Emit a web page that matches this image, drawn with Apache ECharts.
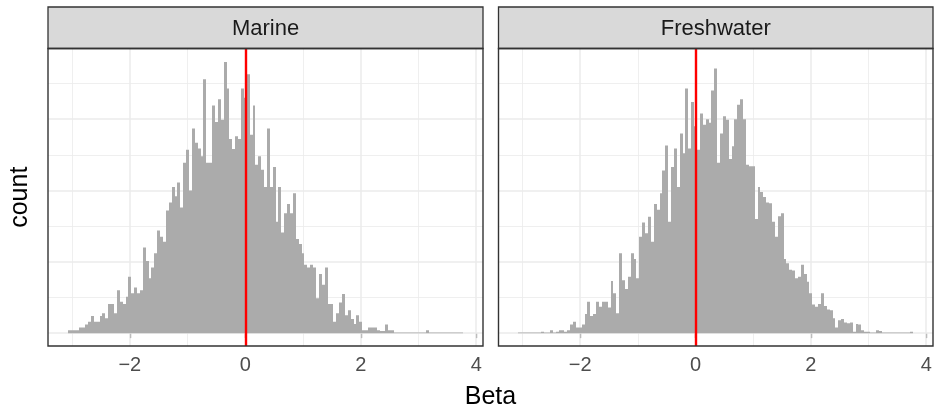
<!DOCTYPE html>
<html>
<head>
<meta charset="utf-8">
<script src="https://cdn.jsdelivr.net/npm/echarts@6/dist/echarts.min.js"></script>
<style>
html,body{margin:0;padding:0;background:#fff;}
#chart{width:935px;height:408px;}
</style>
</head>
<body>
<div id="chart"></div>
<script>
// ---------------- data ----------------
const panelNames = ['Marine', 'Freshwater'];
const binWidth = 0.05;
const binCenters = [
-3.05,-3.00,-2.95,-2.90,-2.85,-2.80,-2.75,-2.70,-2.65,-2.60,-2.55,-2.50,-2.45,-2.40,-2.35,-2.30,-2.25,-2.20,-2.15,-2.10,
-2.05,-2.00,-1.95,-1.90,-1.85,-1.80,-1.75,-1.70,-1.65,-1.60,-1.55,-1.50,-1.45,-1.40,-1.35,-1.30,-1.25,-1.20,-1.15,-1.10,
-1.05,-1.00,-0.95,-0.90,-0.85,-0.80,-0.75,-0.70,-0.65,-0.60,-0.55,-0.50,-0.45,-0.40,-0.35,-0.30,-0.25,-0.20,-0.15,-0.10,
-0.05,0.00,0.05,0.10,0.15,0.20,0.25,0.30,0.35,0.40,0.45,0.50,0.55,0.60,0.65,0.70,0.75,0.80,0.85,0.90,
0.95,1.00,1.05,1.10,1.15,1.20,1.25,1.30,1.35,1.40,1.45,1.50,1.55,1.60,1.65,1.70,1.75,1.80,1.85,1.90,
1.95,2.00,2.05,2.10,2.15,2.20,2.25,2.30,2.35,2.40,2.45,2.50,2.55,2.60,2.65,2.70,2.75,2.80,2.85,2.90,
2.95,3.00,3.05,3.10,3.15,3.20,3.25,3.30,3.35,3.40,3.45,3.50,3.55,3.60,3.65,3.70,3.75
];
const marineCounts = [
4,4,4,4,8,8,12,16,24,16,16,24,28,21,41,41,28,60,44,41,
51,79,56,64,56,60,120,101,77,92,112,144,135,128,172,183,205,192,211,176,
239,257,200,287,267,259,248,356,239,239,319,296,328,299,380,343,272,258,276,272,
343,330,363,278,319,236,248,229,205,287,205,233,156,205,141,168,181,168,196,132,
125,112,96,92,96,92,49,83,68,92,41,41,16,28,43,55,25,32,20,13,
25,16,4,4,8,8,8,4,3,3,12,4,4,1,1,1,1,1,1,1,
1,1,1,1,4,1,1,1,1,1,1,1,1,1,1,1,1
];
const freshwaterCounts = [
1,1,1,1,1,1,1,1,2,1,1,4,1,2,4,4,2,4,12,16,
8,8,12,27,44,24,27,44,37,44,44,36,73,56,28,112,74,62,79,112,
104,77,135,155,140,163,128,181,173,196,228,263,156,233,259,205,280,252,343,259,
324,290,257,308,292,300,295,340,371,239,280,304,299,244,262,300,320,328,300,236,
234,234,160,205,198,191,183,182,156,135,164,168,104,98,89,88,77,79,96,83,
72,56,40,37,41,56,38,33,32,21,8,18,20,15,14,15,2,13,12,4,
2,2,1,1,4,3,1,1,1,1,1,1,1,1,1,1,2
];
const xTickValues = [-2, 0, 2, 4];
const xMinorValues = [-3, -1, 1, 3];
const yMajorValues = [0, 100, 200, 300];
const yMinorValues = [50, 150, 250, 350];
const refLineValue = 0;
const xTitle = 'Beta';
const yTitle = 'count';

// ---------------- layout / style ----------------
const FONT = '"Liberation Sans", Arial, Helvetica, sans-serif';
const panels = [
  {left: 48, width: 435},
  {left: 498.5, width: 434.5}
];
const plotTop = 48.5, plotBottom = 346;
const stripTop = 7;

const lo = binCenters[0] - binWidth / 2;
const hi = binCenters[binCenters.length - 1] + binWidth / 2;
const xPad = 0.05 * (hi - lo);
const X_MIN = lo - xPad, X_MAX = hi + xPad;
const Y_MIN = -18, Y_MAX = 399;

const countsByPanel = [marineCounts, freshwaterCounts];
const fmt = v => (v < 0 ? '\u2212' + Math.abs(v) : String(v));

function renderBar(params, api) {
  const c = api.value(0), v = api.value(1);
  const p0 = api.coord([c - binWidth / 2, v]);
  const p1 = api.coord([c + binWidth / 2, 0]);
  const x0 = Math.round(p0[0]), x1 = Math.round(p1[0]);
  return {
    type: 'rect',
    shape: {x: x0, y: p0[1], width: x1 - x0, height: p1[1] - p0[1]},
    style: {fill: '#ababab'}
  };
}

const grids = [], xAxes = [], yAxes = [], series = [], graphics = [];
panels.forEach((p, i) => {
  grids.push({left: p.left, top: plotTop, width: p.width, height: plotBottom - plotTop, containLabel: false});
  xAxes.push({
    type: 'value', gridIndex: i, min: X_MIN, max: X_MAX,
    axisLine: {show: false}, splitLine: {show: false},
    axisTick: {show: true, customValues: xTickValues, length: 5, lineStyle: {color: '#333333', width: 1.2}},
    axisLabel: {customValues: xTickValues, formatter: fmt, color: '#4d4d4d', fontSize: 20, fontFamily: FONT, margin: 9}
  });
  yAxes.push({
    type: 'value', gridIndex: i, min: Y_MIN, max: Y_MAX,
    axisLine: {show: false}, axisTick: {show: false}, axisLabel: {show: false}, splitLine: {show: false}
  });
  const gl = [];
  xMinorValues.forEach(v => gl.push({xAxis: v, lineStyle: {color: '#ebebeb', width: 0.8, type: 'solid'}}));
  yMinorValues.forEach(v => gl.push({yAxis: v, lineStyle: {color: '#ebebeb', width: 0.8, type: 'solid'}}));
  xTickValues.forEach(v => gl.push({xAxis: v, lineStyle: {color: '#ebebeb', width: 1.5, type: 'solid'}}));
  yMajorValues.forEach(v => gl.push({yAxis: v, lineStyle: {color: '#ebebeb', width: 1.5, type: 'solid'}}));
  series.push({
    type: 'scatter', xAxisIndex: i, yAxisIndex: i, data: [], silent: true, z: 1,
    markLine: {silent: true, symbol: 'none', z: 1, label: {show: false}, animation: false, data: gl}
  });
  series.push({
    type: 'custom', name: panelNames[i], xAxisIndex: i, yAxisIndex: i, z: 3, silent: true,
    renderItem: renderBar, clip: true,
    data: binCenters.map((c, k) => [c, countsByPanel[i][k]])
  });
  series.push({
    type: 'scatter', xAxisIndex: i, yAxisIndex: i, data: [], silent: true, z: 6,
    markLine: {silent: true, symbol: 'none', z: 6, label: {show: false}, animation: false,
      data: [{xAxis: refLineValue, lineStyle: {color: '#ff0000', width: 2.4, type: 'solid'}}]}
  });
  // strip
  graphics.push({type: 'rect', z: 50, shape: {x: p.left, y: stripTop, width: p.width, height: plotTop - stripTop},
    style: {fill: '#d9d9d9', stroke: '#333333', lineWidth: 1.3}});
  graphics.push({type: 'text', z: 51, x: p.left + p.width / 2, y: (stripTop + plotTop) / 2 + 1,
    style: {text: panelNames[i], fontSize: 22, fontFamily: FONT, fill: '#1a1a1a', align: 'center', verticalAlign: 'middle'}});
  // panel border
  graphics.push({type: 'rect', z: 60, shape: {x: p.left, y: plotTop, width: p.width, height: plotBottom - plotTop},
    style: {fill: 'none', stroke: '#333333', lineWidth: 1.4}});
});

const centerX = (panels[0].left + panels[1].left + panels[1].width) / 2;
graphics.push({type: 'text', z: 51, x: centerX, y: 397,
  style: {text: xTitle, fontSize: 25, fontFamily: FONT, fill: '#000000', align: 'center', verticalAlign: 'middle'}});
graphics.push({type: 'text', z: 51, x: 20, y: (plotTop + plotBottom) / 2, rotation: Math.PI / 2,
  style: {text: yTitle, fontSize: 25, fontFamily: FONT, fill: '#000000', align: 'center', verticalAlign: 'middle'}});

const chart = echarts.init(document.getElementById('chart'), null, {renderer: 'canvas'});
chart.setOption({
  animation: false,
  backgroundColor: '#ffffff',
  grid: grids,
  xAxis: xAxes,
  yAxis: yAxes,
  series: series,
  graphic: graphics
});
</script>
</body>
</html>
